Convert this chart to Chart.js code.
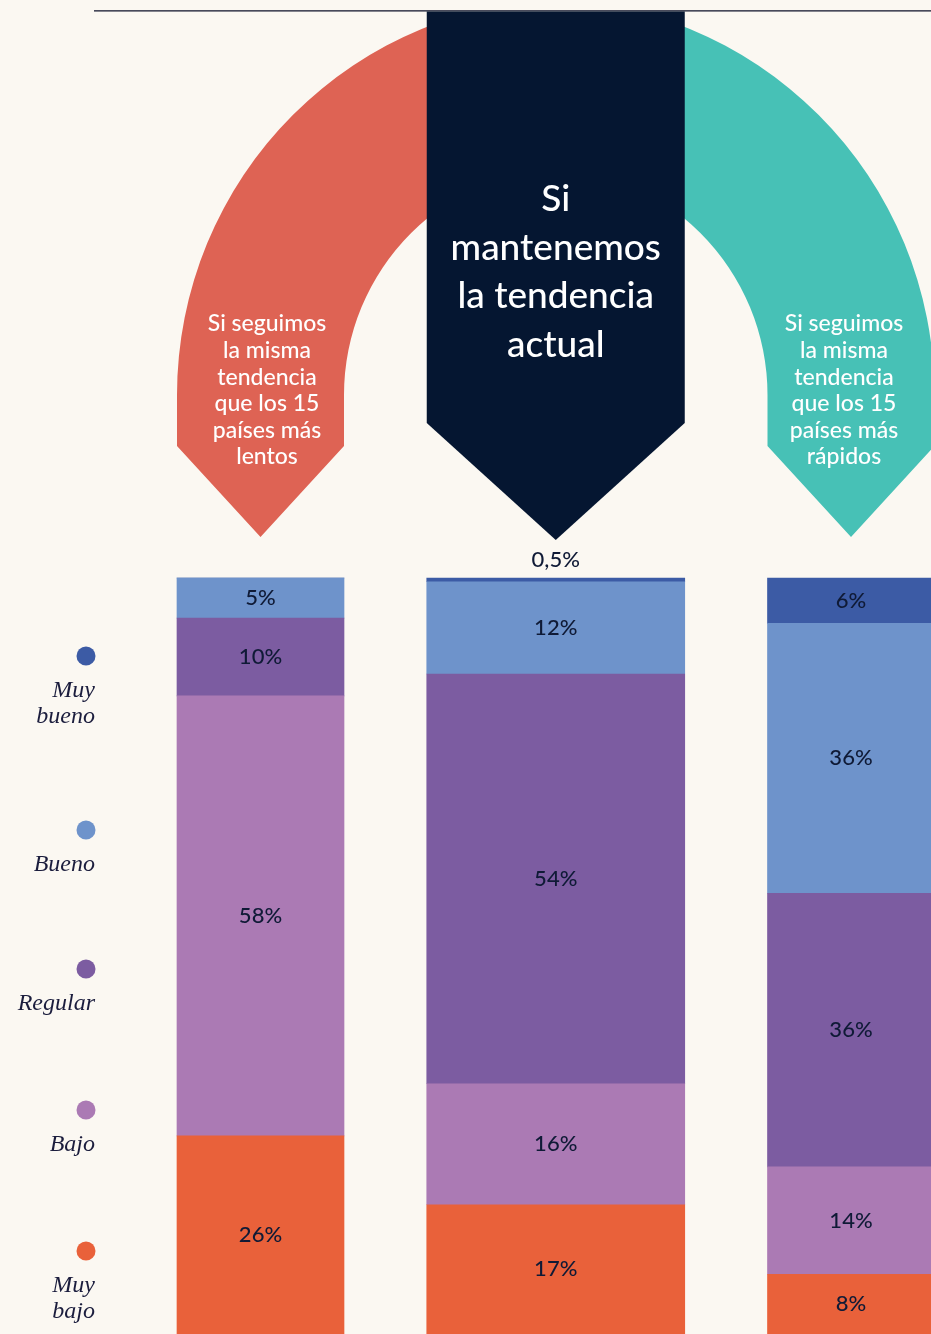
<!DOCTYPE html>
<html>
<head>
<meta charset="utf-8">
<script src="https://cdn.jsdelivr.net/npm/chart.js@4"></script>
<style>
  html, body { margin: 0; padding: 0; background: #fbf8f2; overflow: hidden; }
  canvas { display: block; }
</style>
</head>
<body>
<canvas id="chart" width="931" height="1334"></canvas>
<script>
// columns: slow countries / current trend / fast countries
const columns = ["Más lentos", "Tendencia actual", "Más rápidos"];
const levels = ["Muy bueno", "Bueno", "Regular", "Bajo", "Muy bajo"];

// % of population per level
const muyBueno = [0, 0.5, 6.0];
const bueno = [5.3, 12.2, 35.7];
const regular = [10.3, 54.2, 36.2];
const bajo = [58.2, 16.0, 14.2];
const muyBajo = [26.2, 17.1, 7.9];

const headerLeft = ["Si seguimos", "la misma", "tendencia", "que los 15", "países más", "lentos"];
const headerMid = ["Si", "mantenemos", "la tendencia", "actual"];
const headerRight = ["Si seguimos", "la misma", "tendencia", "que los 15", "países más", "rápidos"];

const colors = {
  "Muy bueno": "#3c5ba5",
  "Bueno": "#6e93cb",
  "Regular": "#7c5ca1",
  "Bajo": "#ab7ab4",
  "Muy bajo": "#e9613a",
};
const barWidths = [167, 258, 167];
const textColor = "#0f1a36";

// bottom of the stack first
const stackOrder = [
  ["Muy bajo", muyBajo],
  ["Bajo", bajo],
  ["Regular", regular],
  ["Bueno", bueno],
  ["Muy bueno", muyBueno],
];

const datasets = [];
stackOrder.forEach(([name, values]) => {
  columns.forEach((col, c) => {
    datasets.push({
      label: name,
      data: values.map((v, i) => (i === c ? v : null)),
      backgroundColor: colors[name],
      borderWidth: 0,
      barThickness: barWidths[c],
      stack: "all",
      clip: false,
    });
  });
});

function pctText(v) {
  if (v < 1) return String(v).replace(".", ",") + "%";
  return Math.round(v) + "%";
}

const barLabels = {
  id: "barLabels",
  afterDatasetsDraw(chart) {
    const ctx = chart.ctx;
    const bottom = chart.chartArea.bottom;
    ctx.save();
    ctx.fillStyle = textColor;
    ctx.font = "500 22px Lato";
    ctx.textAlign = "center";
    ctx.textBaseline = "middle";
    chart.data.datasets.forEach((ds, i) => {
      const meta = chart.getDatasetMeta(i);
      meta.data.forEach((el, j) => {
        const v = ds.data[j];
        if (v == null || v <= 0) return;
        if (v < 1) {
          ctx.fillText(pctText(v), el.x, el.y - 18);
        } else {
          const base = Math.min(el.base, bottom);
          ctx.fillText(pctText(v), el.x, (el.y + base) / 2);
        }
      });
    });
    ctx.restore();
  },
};

const header = {
  id: "header",
  beforeDatasetsDraw(chart) {
    const ctx = chart.ctx;
    const xs = chart.scales.x;
    const c0 = xs.getPixelForValue(0);
    const c1 = xs.getPixelForValue(1);
    const c2 = xs.getPixelForValue(2);
    const cy = 395;
    const legEnd = 446;
    const tip = 537;

    ctx.save();
    // top rule
    ctx.strokeStyle = "#0c1028";
    ctx.lineWidth = 1.3;
    ctx.beginPath();
    ctx.moveTo(94, 10.8);
    ctx.lineTo(chart.width, 10.8);
    ctx.stroke();

    // red arch (left)
    let acx = c1 + 17.5;
    let outer = acx - (c0 - barWidths[0] / 2);
    let inner = acx - (c0 + barWidths[0] / 2);
    ctx.save();
    ctx.beginPath();
    ctx.rect(0, 0, 470, chart.height);
    ctx.clip();
    ctx.fillStyle = "#de6354";
    ctx.beginPath();
    ctx.moveTo(acx - outer, legEnd);
    ctx.lineTo(acx - outer, cy);
    ctx.arc(acx, cy, outer, Math.PI, 1.5 * Math.PI);
    ctx.lineTo(acx, cy - inner);
    ctx.arc(acx, cy, inner, 1.5 * Math.PI, Math.PI, true);
    ctx.lineTo(acx - inner, legEnd);
    ctx.lineTo(c0, tip);
    ctx.closePath();
    ctx.fill();
    ctx.restore();

    // teal arch (right)
    acx = c1 - 17.5;
    outer = (c2 + barWidths[2] / 2) - acx;
    inner = (c2 - barWidths[2] / 2) - acx;
    ctx.save();
    ctx.beginPath();
    ctx.rect(641, 0, chart.width, chart.height);
    ctx.clip();
    ctx.fillStyle = "#47c1b6";
    ctx.beginPath();
    ctx.moveTo(acx + outer, legEnd);
    ctx.lineTo(acx + outer, cy);
    ctx.arc(acx, cy, outer, 0, 1.5 * Math.PI, true);
    ctx.lineTo(acx, cy - inner);
    ctx.arc(acx, cy, inner, 1.5 * Math.PI, 0);
    ctx.lineTo(acx + inner, legEnd);
    ctx.lineTo(c2, tip);
    ctx.closePath();
    ctx.fill();
    ctx.restore();

    // navy chevron (middle)
    const hw = barWidths[1] / 2;
    ctx.fillStyle = "#051631";
    ctx.beginPath();
    ctx.moveTo(c1 - hw, 11.5);
    ctx.lineTo(c1 + hw, 11.5);
    ctx.lineTo(c1 + hw, 423);
    ctx.lineTo(c1, 540);
    ctx.lineTo(c1 - hw, 423);
    ctx.closePath();
    ctx.fill();

    // header texts
    ctx.fillStyle = "#ffffff";
    ctx.textAlign = "center";
    ctx.textBaseline = "middle";
    ctx.font = "500 23px Lato";
    headerLeft.forEach((t, i) => ctx.fillText(t, c0 + 6.5, 324 + i * 26.6));
    headerRight.forEach((t, i) => ctx.fillText(t, c2 - 7, 324 + i * 26.6));
    ctx.font = "500 37px Lato";
    headerMid.forEach((t, i) => ctx.fillText(t, c1, 199 + i * 48.7));

    // legend
    const legendRows = [
      { name: "Muy bueno", y: 656, lines: ["Muy", "bueno"] },
      { name: "Bueno", y: 830, lines: ["Bueno"] },
      { name: "Regular", y: 969, lines: ["Regular"] },
      { name: "Bajo", y: 1110, lines: ["Bajo"] },
      { name: "Muy bajo", y: 1251, lines: ["Muy", "bajo"] },
    ];
    ctx.textAlign = "right";
    ctx.textBaseline = "alphabetic";
    ctx.font = "italic 24px 'Liberation Serif'";
    legendRows.forEach((row) => {
      ctx.fillStyle = colors[row.name];
      ctx.beginPath();
      ctx.arc(86, row.y, 9.5, 0, Math.PI * 2);
      ctx.fill();
      ctx.fillStyle = "#1b1d3d";
      row.lines.forEach((t, i) => ctx.fillText(t, 95, row.y + 41 + i * 26));
    });
    ctx.restore();
  },
};

new Chart(document.getElementById("chart"), {
  type: "bar",
  data: { labels: columns, datasets: datasets },
  options: {
    responsive: false,
    animation: false,
    layout: { padding: { left: 260.5, right: 80, top: 578, bottom: 0 } },
    scales: {
      x: { type: "category", offset: false, display: false, stacked: true },
      y: { display: false, stacked: true, min: 0, max: 100 },
    },
    plugins: {
      legend: { display: false },
      tooltip: { enabled: false },
    },
  },
  plugins: [header, barLabels],
});
</script>
</body>
</html>
